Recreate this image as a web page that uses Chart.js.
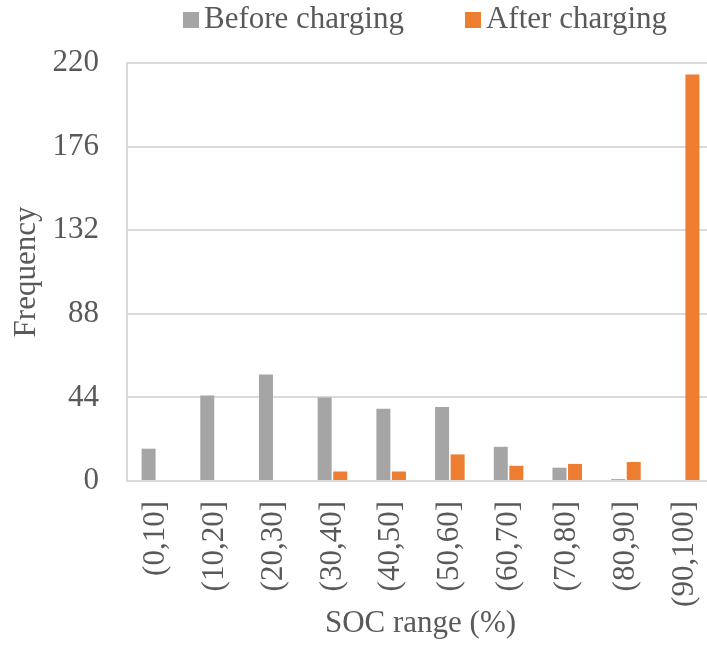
<!DOCTYPE html>
<html>
<head>
<meta charset="utf-8">
<script src="https://cdn.jsdelivr.net/npm/chart.js@4.4.0/dist/chart.umd.min.js"></script>
<style>
  html, body { margin: 0; padding: 0; background: #fff; overflow: hidden; }
  #wrap { width: 716px; height: 660px; }
</style>
</head>
<body>
<div id="wrap"><canvas id="chart"></canvas></div>
<script>
// SOC histogram: before vs after charging
const categories = ['(0,10]', '(10,20]', '(20,30]', '(30,40]', '(40,50]', '(50,60]', '(60,70]', '(70,80]', '(80,90]', '(90,100]'];
const beforeCharging = [17, 45, 56, 44, 38, 39, 18, 7, 1, 0];
const afterCharging = [0, 0, 0, 5, 5, 14, 8, 9, 10, 214];
const yTicks = [0, 44, 88, 132, 176, 220];

const fontFamily = "'Liberation Serif', 'Times New Roman', serif";
const textColor = '#595959';
const gridColor = '#d9d9d9';

// simple legend drawn above the plot (Excel style)
const topLegend = {
    id: 'topLegend',
    afterDraw(chart, args, opts) {
        const ctx = chart.ctx;
        ctx.save();
        ctx.font = `${opts.size}px ${fontFamily}`;
        ctx.textBaseline = 'alphabetic';
        let x = opts.x;
        chart.data.datasets.forEach(ds => {
            ctx.fillStyle = ds.backgroundColor;
            ctx.fillRect(x, opts.boxTop, opts.box, opts.box);
            x += opts.box + opts.gap;
            ctx.fillStyle = textColor;
            ctx.fillText(ds.label, x, opts.baseline);
            x += ctx.measureText(ds.label).width + opts.spacing;
        });
        ctx.restore();
    }
};

new Chart(document.getElementById('chart'), {
    type: 'bar',
    data: {
        labels: categories,
        datasets: [
            { label: 'Before charging', data: beforeCharging, backgroundColor: '#a5a5a5' },
            { label: 'After charging', data: afterCharging, backgroundColor: '#ed7d31' }
        ]
    },
    options: {
        responsive: true,
        maintainAspectRatio: false,
        animation: false,
        categoryPercentage: 0.53,
        barPercentage: 0.9,
        layout: { padding: { top: 63, right: 2, left: 0, bottom: 0 } },
        plugins: {
            legend: { display: false },
            tooltip: { enabled: false },
            topLegend: { x: 183, boxTop: 12, box: 16, gap: 5, spacing: 61, size: 31, baseline: 28 }
        },
        scales: {
            x: {
                offset: true,
                afterFit: scale => {
                    scale.height = 179;
                    scale.paddingLeft = 0;
                    scale.paddingRight = 0;
                },
                grid: { display: false, drawTicks: false },
                border: { display: true, color: gridColor, width: 2 },
                ticks: {
                    autoSkip: false,
                    minRotation: 90,
                    maxRotation: 90,
                    padding: 20,
                    color: textColor,
                    font: { family: fontFamily, size: 31 }
                },
                title: {
                    display: true,
                    text: 'SOC range (%)',
                    color: textColor,
                    font: { family: fontFamily, size: 31 },
                    padding: { top: 2, bottom: 18 }
                }
            },
            y: {
                min: 0,
                max: 220,
                afterBuildTicks: scale => { scale.ticks = yTicks.map(v => ({ value: v })); },
                afterFit: scale => { scale.width = 127; },
                grid: { color: gridColor, lineWidth: 2, drawTicks: false },
                border: { display: true, color: gridColor, width: 2 },
                ticks: {
                    padding: 28,
                    color: textColor,
                    font: { family: fontFamily, size: 31 }
                },
                title: {
                    display: true,
                    text: 'Frequency',
                    color: textColor,
                    font: { family: fontFamily, size: 31 },
                    padding: { top: 8, bottom: 9 }
                }
            }
        }
    },
    plugins: [topLegend]
});
</script>
</body>
</html>
